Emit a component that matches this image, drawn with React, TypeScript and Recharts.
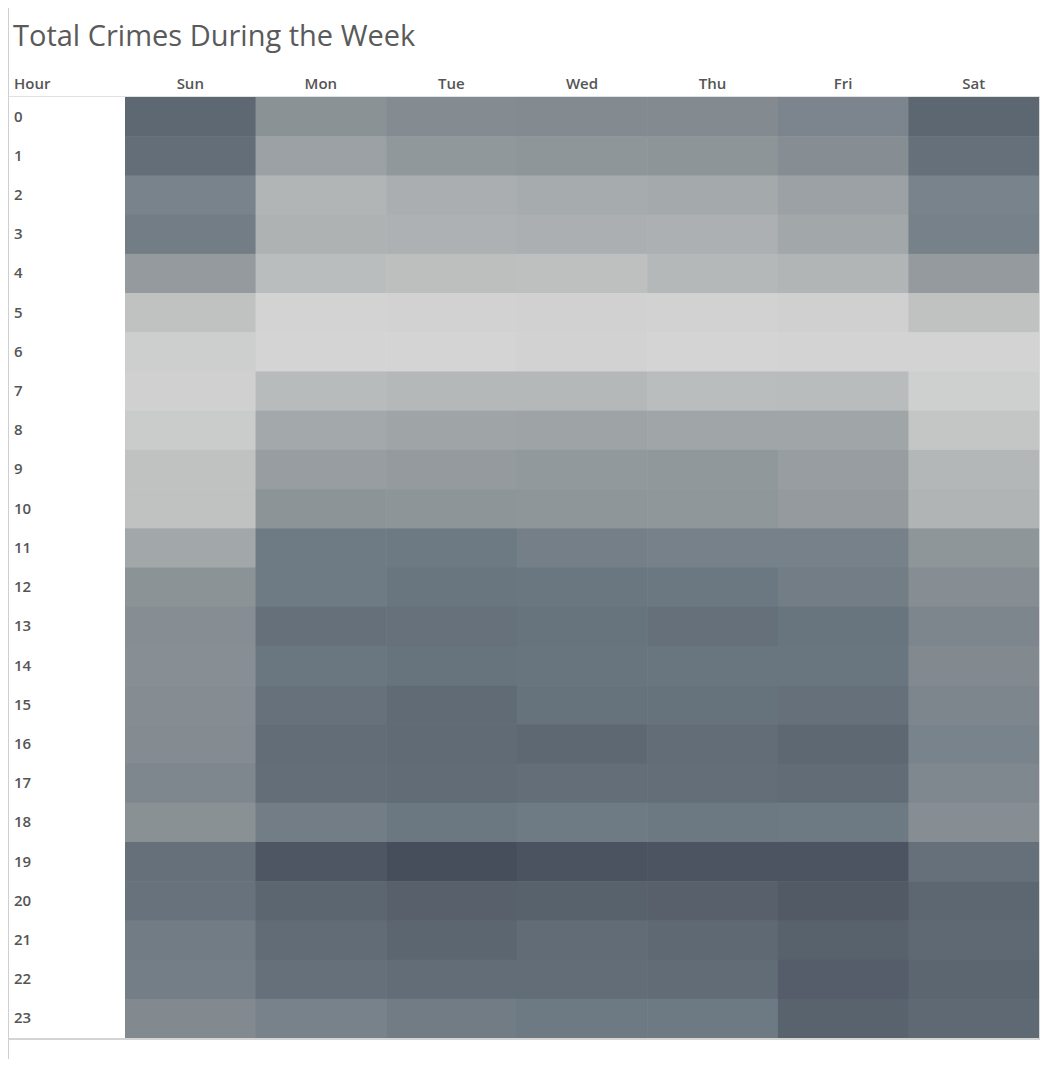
import React from "react";
import { ScatterChart, Scatter, XAxis, YAxis } from "recharts";

const days = ["Sun", "Mon", "Tue", "Wed", "Thu", "Fri", "Sat"];
const hours = [0, 1, 2, 3, 4, 5, 6, 7, 8, 9, 10, 11, 12, 13, 14, 15, 16, 17, 18, 19, 20, 21, 22, 23];

// total crimes per hour (0..23) for each weekday
const sun = [1560, 1500, 1290, 1350, 1060, 660, 540, 520, 570, 660, 660, 930, 1130, 1180, 1170, 1200, 1210, 1250, 1150, 1480, 1460, 1360, 1340, 1230];
const mon = [1140, 990, 790, 820, 710, 490, 480, 730, 920, 1030, 1120, 1370, 1370, 1480, 1410, 1470, 1510, 1500, 1350, 1740, 1580, 1520, 1480, 1300];
const tue = [1210, 1080, 860, 830, 690, 500, 480, 760, 960, 1060, 1110, 1380, 1420, 1470, 1440, 1530, 1530, 1520, 1400, 1820, 1640, 1580, 1510, 1360];
const wed = [1220, 1100, 890, 850, 680, 510, 500, 760, 970, 1070, 1100, 1330, 1410, 1440, 1430, 1450, 1560, 1500, 1370, 1770, 1620, 1520, 1510, 1380];
const thu = [1220, 1110, 910, 840, 760, 500, 480, 710, 950, 1080, 1090, 1310, 1400, 1480, 1420, 1450, 1510, 1500, 1390, 1760, 1640, 1550, 1520, 1380];
const fri = [1270, 1180, 990, 930, 790, 520, 490, 720, 950, 1030, 1060, 1310, 1350, 1430, 1420, 1480, 1560, 1520, 1380, 1760, 1700, 1620, 1670, 1610];
const sat = [1570, 1480, 1290, 1310, 1060, 660, 490, 530, 620, 770, 800, 1100, 1180, 1260, 1230, 1260, 1290, 1240, 1180, 1480, 1570, 1550, 1580, 1550];

const crimesByDay = [sun, mon, tue, wed, thu, fri, sat];

const cells = days.flatMap((day, d) =>
  hours.map((hour) => ({ day, d, hour, crimes: crimesByDay[d][hour] }))
);

// gray -> slate color ramp
const ramp: [number, string][] = [
  [480, "#d4d4d4"],
  [660, "#c0c2c2"],
  [790, "#b1b5b6"],
  [950, "#a0a5a8"],
  [1100, "#8f9699"],
  [1220, "#838a90"],
  [1310, "#76818a"],
  [1420, "#6a767f"],
  [1500, "#636e78"],
  [1600, "#5a646e"],
  [1730, "#4f5764"],
  [1820, "#474e5b"],
];

const hexToRgb = (h: string) => [1, 3, 5].map((i) => parseInt(h.slice(i, i + 2), 16));

const colorFor = (v: number) => {
  if (v <= ramp[0][0]) return ramp[0][1];
  for (let i = 1; i < ramp.length; i++) {
    if (v <= ramp[i][0]) {
      const [v0, c0] = ramp[i - 1];
      const [v1, c1] = ramp[i];
      const t = (v - v0) / (v1 - v0);
      const a = hexToRgb(c0);
      const b = hexToRgb(c1);
      const rgb = a.map((x, k) => Math.round(x + (b[k] - x) * t));
      return `rgb(${rgb.join(",")})`;
    }
  }
  return ramp[ramp.length - 1][1];
};

const W = 1059;
const H = 1067;
const margin = { top: 0, right: 20, bottom: 29, left: 0 };
const AXIS_W = 125;
const AXIS_H = 97;
const CELL_W = (W - margin.right - AXIS_W) / days.length;
const CELL_H = (H - margin.bottom - AXIS_H) / hours.length;

const labelStyle = { fontFamily: "'Open Sans', sans-serif", fontSize: 15, fontWeight: 600, fill: "#555" };

const HeatCell = (props: any) => {
  const { cx, cy, payload } = props;
  return (
    <rect
      x={cx - CELL_W / 2}
      y={cy - CELL_H / 2}
      width={CELL_W + 0.6}
      height={CELL_H + 0.6}
      fill={colorFor(payload.crimes)}
    />
  );
};

const DayTick = ({ x, payload }: any) => (
  <text x={x} y={89} textAnchor="middle" {...labelStyle}>
    {days[payload.value]}
  </text>
);

const HourTick = ({ y, payload }: any) => (
  <text x={14} y={y} dy={5} textAnchor="start" {...labelStyle}>
    {payload.value}
  </text>
);

const line = (left: number, top: number, width: number, height: number, color: string) => (
  <div style={{ position: "absolute", left, top, width, height, background: color }} />
);

export default function App() {
  return (
    <div style={{ position: "relative", margin: -8, width: W, height: H, overflow: "hidden", background: "#fff" }}>
      <div style={{ position: "absolute", left: 0, top: 0 }}>
        <ScatterChart width={W} height={H} margin={margin}>
          <XAxis
            type="number"
            dataKey="d"
            orientation="top"
            height={AXIS_H}
            domain={[-0.5, 6.5]}
            ticks={[0, 1, 2, 3, 4, 5, 6]}
            interval={0}
            axisLine={false}
            tickLine={false}
            tick={<DayTick />}
          />
          <YAxis
            type="number"
            dataKey="hour"
            width={AXIS_W}
            domain={[-0.5, 23.5]}
            ticks={hours}
            interval={0}
            reversed
            axisLine={false}
            tickLine={false}
            tick={<HourTick />}
          />
          <Scatter data={cells} shape={<HeatCell />} isAnimationActive={false} />
        </ScatterChart>
      </div>
      {line(7, 3, W - 7, 2, "#cfcfcf")}
      {line(7, 3, 2, H - 3, "#cfcfcf")}
      {line(9, 96, 1031, 1, "#e2e2e2")}
      {line(9, 1038, 1031, 2, "#d4d4d4")}
      {line(1039, 97, 1, 941, "#d8d8d8")}
      <div
        style={{
          position: "absolute",
          left: 13,
          top: 20,
          fontFamily: "'Open Sans', sans-serif",
          fontSize: 29,
          lineHeight: 1,
          color: "#5a5a5a",
          whiteSpace: "nowrap",
        }}
      >
        Total Crimes During the Week
      </div>
      <svg style={{ position: "absolute", left: 0, top: 0 }} width={120} height={100}>
        <text x={14} y={89} {...labelStyle}>
          Hour
        </text>
      </svg>
    </div>
  );
}
